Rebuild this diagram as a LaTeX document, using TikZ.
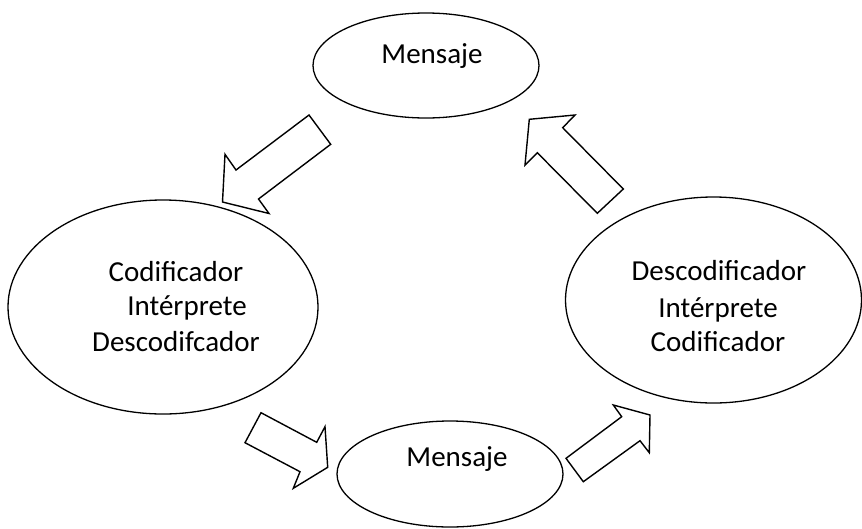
\documentclass[tikz,border=0pt]{standalone}
\usepackage{fontspec}
\setmainfont{Carlito}
\usetikzlibrary{shapes.geometric}
\begin{document}
\begin{tikzpicture}[x=1pt,y=-1pt,
  bubble/.style={draw=black,line width=1.3pt,ellipse,inner sep=0pt},
  lbl/.style={anchor=base,inner sep=0pt,font=\fontsize{29}{35}\selectfont},
  blockarrow/.style={draw=black,line width=1.4pt,line join=miter,fill=white}]
\useasboundingbox (0,0) rectangle (862,528);

% message ellipses
\node[bubble,minimum width=226pt,minimum height=105pt] (msgtop) at (426,65.5) {};
\node[lbl] (msgtoptxt) at (432,63) {Mensaje};

\node[bubble,minimum width=226pt,minimum height=106pt] (msgbot) at (450,474) {};
\node[lbl] (msgbottxt) at (457,466) {Mensaje};

% sender / receiver ellipses
\node[bubble,minimum width=310pt,minimum height=214pt] (left) at (163,307) {};
\node[lbl] (l1) at (176,281.5) {Codificador};
\node[lbl] (l2) at (187,315.5) {Intérprete};
\node[lbl] (l3) at (176,351.5) {Descodifcador};

\node[bubble,minimum width=296pt,minimum height=206pt] (right) at (713.5,300) {};
\node[lbl] (r1) at (719,280) {Descodificador};
\node[lbl] (r2) at (718,317.5) {Intérprete};
\node[lbl] (r3) at (718,351.5) {Codificador};

% block arrows of the cycle
\draw[blockarrow] (309,115) -- (330.7,144.3) -- (258.5,199) -- (269,213.5)
  -- (222.5,202) -- (225,154.3) -- (236,170) -- cycle;
\draw[blockarrow] (261,412.7) -- (316.7,442.3) -- (325,426.7) -- (327.7,467.3)
  -- (293.3,488.3) -- (300,471.7) -- (245,442.7) -- cycle;
\draw[blockarrow] (583.3,481.7) -- (640,440.7) -- (649.3,452.7) -- (650,415)
  -- (613.3,405) -- (621.7,416.7) -- (566,458.3) -- cycle;
\draw[blockarrow] (623.3,189) -- (562.7,127.7) -- (575,115) -- (529.3,119.3)
  -- (525,165) -- (537.3,152.7) -- (597.3,213.3) -- cycle;
\end{tikzpicture}
\end{document}
